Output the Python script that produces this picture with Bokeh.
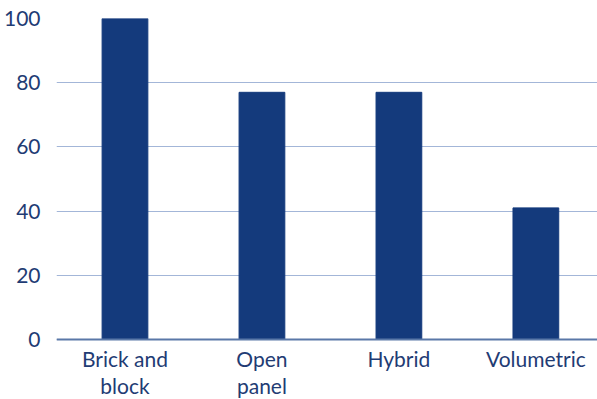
from bokeh.plotting import figure
from bokeh.models import Range1d, FixedTicker, ColumnDataSource, Span
from bokeh.core.properties import value
from bokeh.embed import file_html
from bokeh.resources import INLINE

categories = ["Brick and\nblock", "Open\npanel", "Hybrid", "Volumetric"]
values = [100, 77, 77, 41]
y_ticks = [0, 20, 40, 60, 80, 100]

xs = list(range(len(categories)))
src = ColumnDataSource(dict(x=xs, top=values, base=[0] * len(xs), label=categories))

p = figure(width=597, height=399, output_backend="svg", toolbar_location=None,
           x_range=Range1d(-0.5, 3.45), y_range=Range1d(-18.7, 100),
           min_border_left=54, min_border_right=0, min_border_top=18, min_border_bottom=0)
p.outline_line_color = None
p.xaxis.visible = False

font = "Lato"
tc = "#1f3c74"
p.yaxis.ticker = FixedTicker(ticks=y_ticks)
p.yaxis.axis_line_color = None
p.yaxis.major_tick_line_color = None
p.yaxis.minor_tick_line_color = None
p.yaxis.major_label_text_font = font
p.yaxis.major_label_text_font_size = "21px"
p.yaxis.major_label_text_color = tc
p.yaxis.major_label_standoff = 10

p.xgrid.grid_line_color = None
p.ygrid.grid_line_color = "#a3b6d8"
p.ygrid.grid_line_width = 1.2

p.vbar(x="x", top="top", bottom="base", width=0.334, source=src, color="#143a7c")
p.add_layout(Span(location=0, dimension="width", line_color="#5a78a8", line_width=2))

p.text(x="x", y="base", text="label", source=src,
       text_align="center", text_baseline="top", y_offset=7,
       text_font=value(font), text_font_size="21px", text_color=tc,
       text_line_height=1.05)

open("out.html", "w").write(file_html(p, INLINE))
